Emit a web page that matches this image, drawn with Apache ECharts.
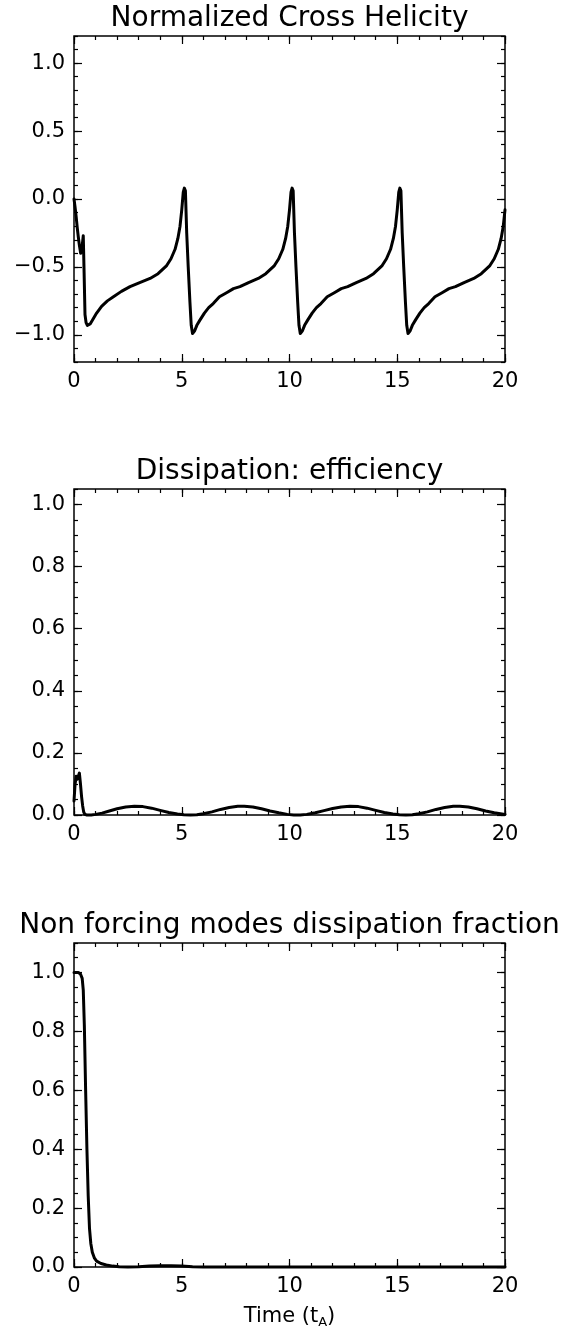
<!DOCTYPE html>
<html>
<head>
<meta charset="utf-8">
<script src="https://cdn.jsdelivr.net/npm/echarts@6/dist/echarts.min.js"></script>
<style>
html, body { margin: 0; padding: 0; background: #fff; }
#chart { width: 568px; height: 1330px; }
</style>
</head>
<body>
<div id="chart"></div>
<script>
var titles = ["Normalized Cross Helicity", "Dissipation: efficiency", "Non forcing modes dissipation fraction"];

// x axis (time) ticks, same on all three panels
var xTicks = [0, 5, 10, 15, 20];
var xMinor = [0, 1, 2, 3, 4, 5, 6, 7, 8, 9, 10, 11, 12, 13, 14, 15, 16, 17, 18, 19, 20];

// panel 1 y axis
var y1Ticks = [-1.0, -0.5, 0.0, 0.5, 1.0];
var y1Labels = ["\u22121.0", "\u22120.5", "0.0", "0.5", "1.0"];
var y1Minor = [-1.2, -1.1, -1.0, -0.9, -0.8, -0.7, -0.6, -0.5, -0.4, -0.3, -0.2, -0.1, 0, 0.1, 0.2, 0.3, 0.4, 0.5, 0.6, 0.7, 0.8, 0.9, 1.0, 1.1, 1.2];

// panel 2 and 3 y axis
var y2Ticks = [0.0, 0.2, 0.4, 0.6, 0.8, 1.0];
var y2Labels = ["0.0", "0.2", "0.4", "0.6", "0.8", "1.0"];
var y2Minor = [0, 0.05, 0.1, 0.15, 0.2, 0.25, 0.3, 0.35, 0.4, 0.45, 0.5, 0.55, 0.6, 0.65, 0.7, 0.75, 0.8, 0.85, 0.9, 0.95, 1.0, 1.05, 1.1];

// normalized cross helicity
var t1 = [0, 0.05, 0.1, 0.15, 0.2, 0.25, 0.31, 0.37, 0.43, 0.47, 0.51, 0.56, 0.62, 0.67, 0.75, 0.9, 1.05, 1.28, 1.55, 1.83, 2.2, 2.6, 3.05, 3.53, 3.9, 4.3, 4.5, 4.69, 4.82, 4.92, 5.0, 5.07, 5.12, 5.17, 5.23, 5.3, 5.38, 5.44, 5.5,
  5.6, 5.7, 5.85, 6.05, 6.25, 6.46, 6.75, 7.08, 7.4, 7.7, 8.1, 8.55, 8.9, 9.3, 9.5, 9.69, 9.82, 9.92, 10.0, 10.07, 10.12, 10.17, 10.23, 10.3, 10.38, 10.44, 10.5,
  10.6, 10.7, 10.85, 11.05, 11.25, 11.46, 11.75, 12.08, 12.4, 12.7, 13.1, 13.55, 13.9, 14.3, 14.5, 14.69, 14.82, 14.92, 15.0, 15.07, 15.12, 15.17, 15.23, 15.3, 15.38, 15.44, 15.5,
  15.6, 15.7, 15.85, 16.05, 16.25, 16.46, 16.75, 17.08, 17.4, 17.7, 18.1, 18.55, 18.9, 19.3, 19.5, 19.69, 19.82, 19.92, 20.0];
var hc = [0.0, -0.06, -0.13, -0.21, -0.28, -0.34, -0.40, -0.36, -0.27, -0.55, -0.85, -0.91, -0.93, -0.93, -0.92, -0.88, -0.84, -0.79, -0.75, -0.72, -0.68, -0.645, -0.615, -0.585, -0.55, -0.49, -0.44, -0.37, -0.29, -0.20, -0.08, 0.05, 0.08, 0.06, -0.25, -0.50, -0.76, -0.93, -0.99,
  -0.97, -0.93, -0.89, -0.84, -0.80, -0.77, -0.72, -0.69, -0.66, -0.645, -0.615, -0.585, -0.55, -0.49, -0.44, -0.37, -0.29, -0.20, -0.08, 0.05, 0.08, 0.06, -0.25, -0.50, -0.76, -0.93, -0.99,
  -0.97, -0.93, -0.89, -0.84, -0.80, -0.77, -0.72, -0.69, -0.66, -0.645, -0.615, -0.585, -0.55, -0.49, -0.44, -0.37, -0.29, -0.20, -0.08, 0.05, 0.08, 0.06, -0.25, -0.50, -0.76, -0.93, -0.99,
  -0.97, -0.93, -0.89, -0.84, -0.80, -0.77, -0.72, -0.69, -0.66, -0.645, -0.615, -0.585, -0.55, -0.49, -0.44, -0.37, -0.29, -0.20, -0.08];

// dissipation efficiency
var t2 = [0, 0.05, 0.1, 0.15, 0.2, 0.25, 0.3, 0.35, 0.4, 0.45, 0.5, 0.6, 0.8, 1.0, 1.3, 1.6, 2.0, 2.4, 2.8, 3.2, 3.6, 4.0, 4.4, 4.8, 5.1, 5.4,
  5.7, 6.0, 6.4, 6.8, 7.2, 7.6, 7.9, 8.3, 8.7, 9.1, 9.5, 9.9, 10.2, 10.5, 10.8, 11.2, 11.6, 12.0, 12.4, 12.8, 13.2, 13.6, 14.0, 14.4, 14.8, 15.1, 15.4,
  15.7, 16.0, 16.4, 16.8, 17.2, 17.6, 17.9, 18.3, 18.7, 19.1, 19.5, 20.0];
var eff = [0.045, 0.10, 0.125, 0.115, 0.125, 0.135, 0.10, 0.06, 0.03, 0.01, 0.002, 0.0, 0.0, 0.002, 0.006, 0.012, 0.020, 0.026, 0.028, 0.027, 0.022, 0.015, 0.008, 0.003, 0.0005, 0.0,
  0.001, 0.004, 0.010, 0.018, 0.024, 0.028, 0.028, 0.026, 0.020, 0.013, 0.007, 0.002, 0.0, 0.0, 0.002, 0.007, 0.014, 0.021, 0.026, 0.028, 0.027, 0.022, 0.015, 0.008, 0.003, 0.0005, 0.0,
  0.001, 0.004, 0.010, 0.018, 0.024, 0.028, 0.028, 0.026, 0.020, 0.013, 0.007, 0.002];

// non forcing modes dissipation fraction
var t3 = [0, 0.1, 0.2, 0.3, 0.38, 0.43, 0.48, 0.54, 0.6, 0.66, 0.72, 0.78, 0.85, 0.95, 1.05, 1.25, 1.5, 1.8, 2.1, 2.5, 3.0, 3.5, 4.0, 4.5, 5.0, 5.5, 6.0, 8, 10, 12, 14, 16, 18, 20];
var frac = [1.0, 1.0, 1.0, 0.995, 0.98, 0.94, 0.82, 0.60, 0.40, 0.24, 0.13, 0.08, 0.05, 0.03, 0.02, 0.012, 0.007, 0.003, 0.001, 0.0, 0.001, 0.003, 0.004, 0.004, 0.003, 0.001, 0.0, 0, 0, 0, 0, 0, 0, 0];

var font = "DejaVu Sans";
var plotLeft = 74, plotW = 431;
var grids = [
  { top: 36, height: 326, ymin: -1.2, ymax: 1.2, ticks: y1Ticks, labels: y1Labels, minor: y1Minor },
  { top: 489, height: 326, ymin: 0, ymax: 1.05, ticks: y2Ticks, labels: y2Labels, minor: y2Minor },
  { top: 943, height: 325, ymin: 0, ymax: 1.1, ticks: y2Ticks, labels: y2Labels, minor: y2Minor }
];

function pairs(xs, ys) {
  var out = [];
  for (var i = 0; i < xs.length; i++) out.push([xs[i], ys[i]]);
  return out;
}

function tickAxis(gi, pos, min, max, values, len, labelValues, fmt) {
  return {
    type: "value", gridIndex: gi, position: pos, min: min, max: max,
    axisLine: { show: false, onZero: false },
    splitLine: { show: false },
    axisTick: { show: true, inside: true, length: len, customValues: values, lineStyle: { color: "#000", width: 1.2 } },
    axisLabel: labelValues ? {
      show: true, customValues: labelValues, margin: 9, color: "#000", fontSize: 21, fontFamily: font,
      formatter: fmt
    } : { show: false }
  };
}

var chart = echarts.init(document.getElementById("chart"));
var xAxis = [], yAxis = [], gridOpt = [], title = [], series = [];
var seriesData = [pairs(t1, hc), pairs(t2, eff), pairs(t3, frac)];
var titleTops = [5, 458, 912];

grids.forEach(function (g, gi) {
  gridOpt.push({ left: plotLeft, width: plotW, top: g.top, height: g.height, show: true, borderColor: "#000", borderWidth: 1.5 });
  title.push({ text: titles[gi], left: plotLeft + plotW / 2, top: titleTops[gi], textAlign: "center", padding: 0,
    textStyle: { fontSize: 28, fontWeight: "normal", fontFamily: font, color: "#000" } });

  var xMain = tickAxis(gi, "bottom", 0, 20, xTicks, 8, xTicks, null);
  if (gi === 2) {
    xMain.name = "{a|Time (t}{s|A}{a|)}";
    xMain.nameLocation = "middle";
    xMain.nameGap = 37;
    xMain.nameTextStyle = { rich: {
      a: { fontSize: 21, fontFamily: font, color: "#000" },
      s: { fontSize: 13, fontFamily: font, color: "#000", padding: [12, 0, 0, 0] }
    } };
  }
  xAxis.push(xMain);
  xAxis.push(tickAxis(gi, "bottom", 0, 20, xMinor, 4));
  xAxis.push(tickAxis(gi, "top", 0, 20, xTicks, 8));
  xAxis.push(tickAxis(gi, "top", 0, 20, xMinor, 4));

  var fmt = (function (ticks, labels) {
    return function (v) {
      for (var i = 0; i < ticks.length; i++) {
        if (Math.abs(ticks[i] - v) < 1e-9) return labels[i];
      }
      return "";
    };
  })(g.ticks, g.labels);
  yAxis.push(tickAxis(gi, "left", g.ymin, g.ymax, g.ticks, 8, g.ticks, fmt));
  yAxis.push(tickAxis(gi, "left", g.ymin, g.ymax, g.minor, 4));
  yAxis.push(tickAxis(gi, "right", g.ymin, g.ymax, g.ticks, 8));
  yAxis.push(tickAxis(gi, "right", g.ymin, g.ymax, g.minor, 4));

  series.push({
    type: "line", xAxisIndex: gi * 4, yAxisIndex: gi * 4, data: seriesData[gi],
    showSymbol: false, clip: false, smooth: false,
    lineStyle: { color: "#000", width: 3, join: "round", cap: "round" }
  });
});

chart.setOption({
  animation: false,
  backgroundColor: "#fff",
  title: title,
  grid: gridOpt,
  xAxis: xAxis,
  yAxis: yAxis,
  series: series
});
</script>
</body>
</html>
